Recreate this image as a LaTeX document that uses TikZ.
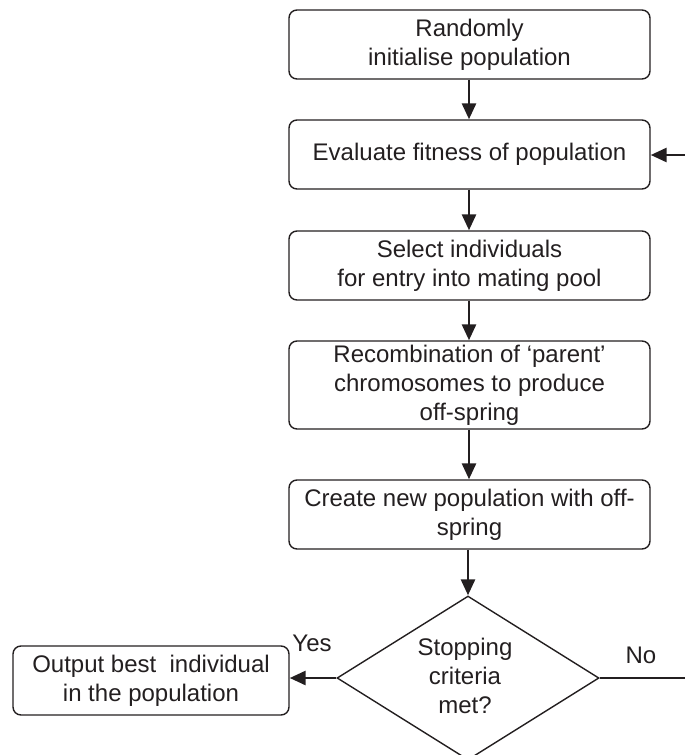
\documentclass[tikz,border=0pt]{standalone}
\usepackage{fontspec}
\setmainfont{Liberation Sans}
\usetikzlibrary{arrows.meta,shapes.geometric}
\definecolor{ink}{HTML}{231F20}
\begin{document}
\begin{tikzpicture}[x=1pt,y=-1pt,
  every node/.style={text=ink},
  box/.style={draw=ink, line width=1.4pt, rounded corners=8pt, minimum width=361pt,
    align=center, inner sep=0pt, font=\fontsize{24}{29}\selectfont},
  lbl/.style={font=\fontsize{24}{29}\selectfont, inner sep=0pt, align=center},
  flow/.style={draw=ink, line width=2.8pt, -{Triangle[length=16pt,width=14pt]}},
  plain/.style={draw=ink, line width=2.8pt}]
\useasboundingbox (0,0) rectangle (685,755);
\clip (0,0) rectangle (685,755);
\node[box, minimum height=69pt] (init) at (469.5,44.5) {Randomly\\initialise population};
\node[box, minimum height=69pt] (eval) at (469.5,154.5) {Evaluate fitness of population};
\node[box, minimum height=69pt] (sel) at (469.5,265.5) {Select individuals\\for entry into mating pool};
\node[box, minimum height=88pt] (rec) at (469.5,385) {Recombination of `parent'\\chromosomes to produce\\off-spring};
\node[box, minimum height=69pt] (new) at (469.5,514.5) {Create new population with off-\\spring};
\node[draw=ink, line width=1.4pt, diamond, minimum width=262pt, minimum height=164pt, inner sep=0pt] (dia) at (468,678) {};
\node[lbl] (dtext) at (465,676) {Stopping\\criteria\\met?};
\node[box, minimum width=276pt, minimum height=69pt] (out) at (151,680.5) {Output best\ \ individual\\in the population};
\node[lbl] (yes) at (312,643) {Yes};
\node[lbl] (no) at (641,655) {No};
\coordinate (loopA) at (720,678);
\coordinate (loopB) at (720,155);
\draw[flow] (init.south -| 469,0) -- (eval.north -| 469,0);
\draw[flow] (eval.south -| 469,0) -- (sel.north -| 469,0);
\draw[flow] (sel.south -| 469,0) -- (rec.north -| 469,0);
\draw[flow] (rec.south -| 469,0) -- (new.north -| 469,0);
\draw[flow] (new.south -| 468,0) -- (dia.north);
\draw[flow] (dia.west) -- (out.east |- dia.west);
\draw[flow] (dia.east) -- (loopA) -- (loopB) -- (eval.east |- loopB);
\end{tikzpicture}
\end{document}
